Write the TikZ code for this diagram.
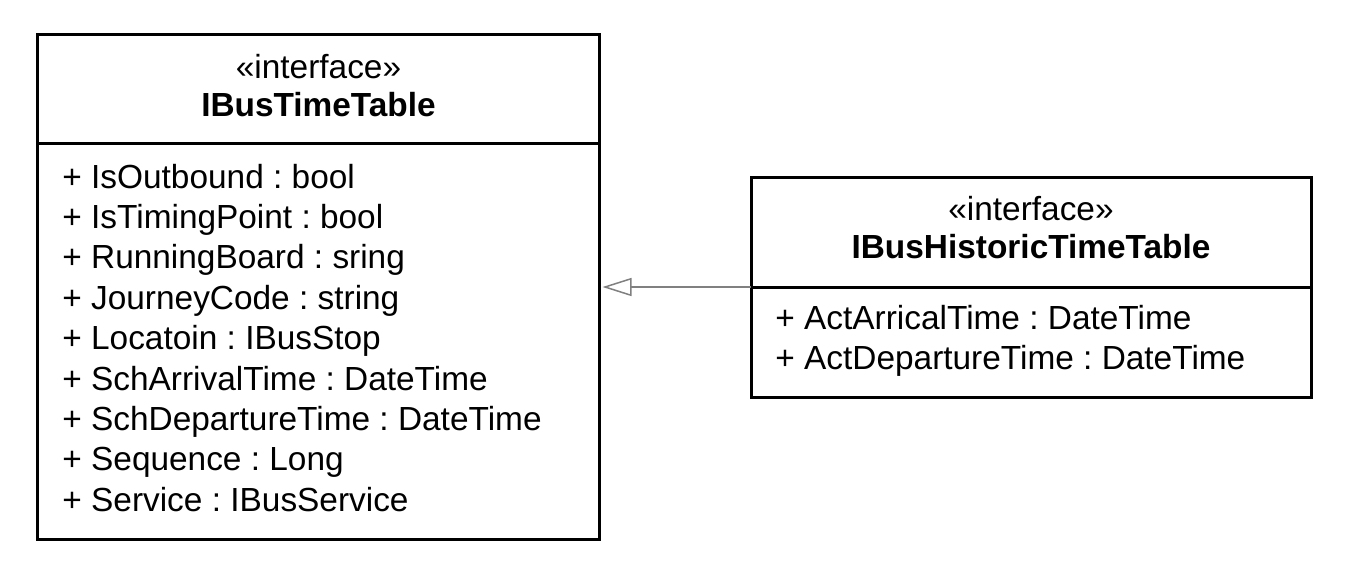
\documentclass[tikz,border=0pt]{standalone}
\usepackage{fontspec}
\setmainfont{Liberation Sans}
\usetikzlibrary{arrows.meta}
\frenchspacing
\begin{document}
\begin{tikzpicture}[x=0.5pt, y=-0.5pt,
    box/.style={draw, line width=1.5pt, inner sep=0pt, outer sep=0pt},
    txt/.style={inner sep=0pt, font=\fontsize{16.7pt}{20pt}\selectfont},
    attr/.style={txt, anchor=base west},
    stereo/.style={txt, anchor=base},
    clsname/.style={stereo, font=\fontsize{16.7pt}{20pt}\selectfont\bfseries},
    inherit/.style={draw=gray, line width=0.75pt, -{Triangle[open, length=14.5pt, width=9pt]}}]
        \useasboundingbox (0, 0) rectangle (1348, 578);

        % Boxes
        \node (ttHead) [box, minimum width=281pt, minimum height=54.5pt] at (318.5, 89) {};
        \node (ttBody) [box, minimum width=281pt, minimum height=197.75pt, anchor=north] at (ttHead.south) {};
        \node (hbHead) [box, minimum width=280pt, minimum height=55pt] at (1031, 232) {};
        \node (hbBody) [box, minimum width=280pt, minimum height=55pt, anchor=north] at (hbHead.south) {};

        % Headers
        \node (ttStereo) [stereo] at (318.5, 78) {«interface»};
        \node (ttName) [clsname] at (318.5, 116) {IBusTimeTable};
        \node (hbStereo) [stereo] at (1031, 220) {«interface»};
        \node (hbName) [clsname] at (1031, 258) {IBusHistoricTimeTable};

        % Attributes
        \node (a1) [attr] at (62, 188) {+ IsOutbound : bool};
        \node (a2) [attr] at (62, 228.4) {+ IsTimingPoint : bool};
        \node (a3) [attr] at (62, 268.8) {+ RunningBoard : sring};
        \node (a4) [attr] at (62, 309.2) {+ JourneyCode : string};
        \node (a5) [attr] at (62, 349.6) {+ Locatoin : IBusStop};
        \node (a6) [attr] at (62, 390) {+ SchArrivalTime : DateTime};
        \node (a7) [attr] at (62, 430.4) {+ SchDepartureTime : DateTime};
        \node (a8) [attr] at (62, 470.8) {+ Sequence : Long};
        \node (a9) [attr] at (62, 511.2) {+ Service : IBusService};
        \node (b1) [attr] at (775, 329) {+ ActArricalTime : DateTime};
        \node (b2) [attr] at (775, 369) {+ ActDepartureTime : DateTime};

        % Edges
        \draw[inherit] (hbHead.south west) -- ([xshift=1.5pt]hbHead.south west -| ttBody.east);
    \end{tikzpicture}
\end{document}
